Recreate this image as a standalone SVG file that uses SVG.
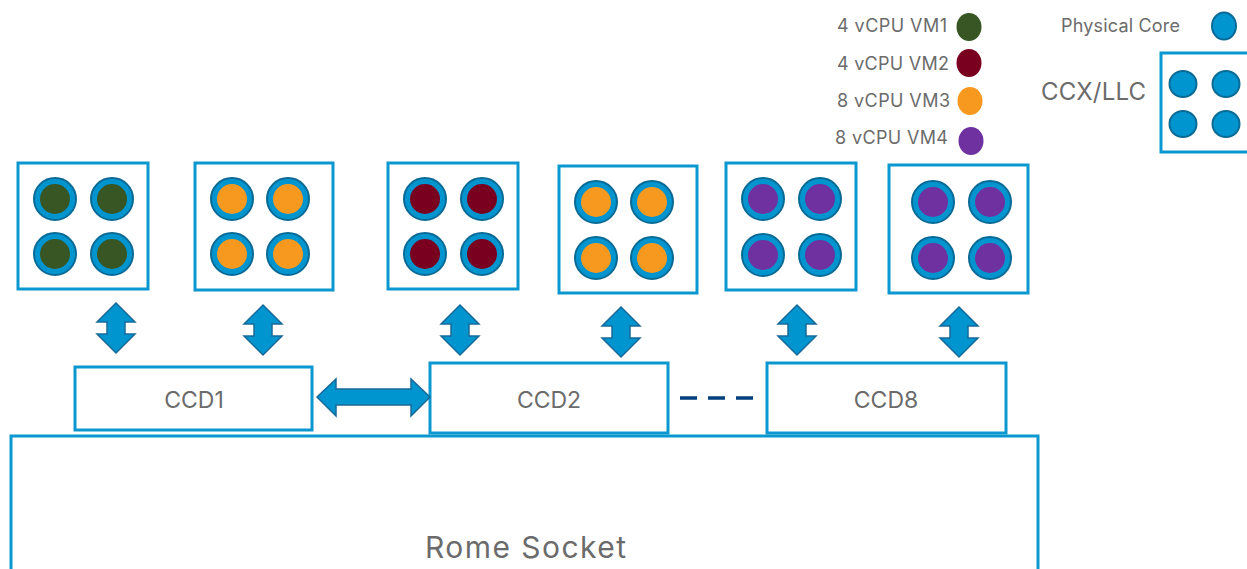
<svg xmlns="http://www.w3.org/2000/svg" width="1247" height="569" viewBox="0 0 1247 569">
  <defs>
    <style>
      .box { fill: #ffffff; stroke: #0b97d0; stroke-width: 3; }
      .core { fill: #0095cf; stroke: #0a6a96; stroke-width: 2; }
      .lbl { font-family: Inter, "Open Sans", "Liberation Sans", sans-serif; fill: #6b6b6b; }
      .legend-lbl { font-size: 18px; }
      .ccd-lbl { font-size: 23px; text-anchor: middle; }
      .arrow { fill: #0095cf; stroke: #17699a; stroke-width: 1.5; stroke-linejoin: miter; }
      .vm1 { fill: #375623; }
      .vm2 { fill: #7a0020; }
      .vm3 { fill: #f7991e; }
      .vm4 { fill: #7031a0; }
    </style>
    <!-- vertical double arrow, centred on 0, 50 tall -->
    <path id="varrow" class="arrow" d="M0,0 L19,19 L9,19 L9,31 L19,31 L0,50 L-19,31 L-9,31 L-9,19 L-19,19 Z"/>
    <!-- physical core with ring -->
    <circle id="ring" class="core" r="21"/>
  </defs>

  <!-- Legend -->
  <g id="legend">
    <text class="lbl legend-lbl" x="837" y="32" textLength="110">4 vCPU VM1</text>
    <ellipse class="vm1" cx="969" cy="27" rx="12.5" ry="14"/>
    <text class="lbl legend-lbl" x="837" y="70" textLength="112">4 vCPU VM2</text>
    <ellipse class="vm2" cx="969" cy="63" rx="12.5" ry="14"/>
    <text class="lbl legend-lbl" x="837" y="107" textLength="113">8 vCPU VM3</text>
    <ellipse class="vm3" cx="970" cy="101" rx="12.5" ry="14"/>
    <text class="lbl legend-lbl" x="835" y="144" textLength="113">8 vCPU VM4</text>
    <ellipse class="vm4" cx="971" cy="141" rx="12.5" ry="14"/>
    <text class="lbl legend-lbl" x="1061" y="32" textLength="119">Physical Core</text>
    <ellipse class="core" cx="1224" cy="26" rx="12" ry="13.5"/>
  </g>

  <g id="ccx-legend">
    <text class="lbl" x="1041" y="100" font-size="24" textLength="105">CCX/LLC</text>
    <rect class="box" x="1161" y="53" width="100" height="99"/>
    <ellipse class="core" cx="1183" cy="84" rx="13.5" ry="13"/>
    <ellipse class="core" cx="1226" cy="84" rx="13.5" ry="13"/>
    <ellipse class="core" cx="1183" cy="124" rx="13.5" ry="13"/>
    <ellipse class="core" cx="1226" cy="124" rx="13.5" ry="13"/>
  </g>

  <!-- Socket -->
  <g id="socket">
    <rect class="box" x="11" y="436" width="1027" height="160"/>
    <text class="lbl" x="425" y="558" font-size="30" textLength="201">Rome Socket</text>
  </g>

  <!-- CCX groups -->
  <g id="ccx1">
    <rect class="box" x="18" y="163" width="130" height="126"/>
    <use href="#ring" x="55" y="199"/><circle class="vm1" cx="55" cy="199" r="15"/>
    <use href="#ring" x="112" y="199"/><circle class="vm1" cx="112" cy="199" r="15"/>
    <use href="#ring" x="55" y="254"/><circle class="vm1" cx="55" cy="254" r="15"/>
    <use href="#ring" x="112" y="254"/><circle class="vm1" cx="112" cy="254" r="15"/>
  </g>
  <g id="ccx2">
    <rect class="box" x="195" y="163" width="138" height="127"/>
    <use href="#ring" x="232" y="199"/><circle class="vm3" cx="232" cy="199" r="15"/>
    <use href="#ring" x="288" y="199"/><circle class="vm3" cx="288" cy="199" r="15"/>
    <use href="#ring" x="232" y="254"/><circle class="vm3" cx="232" cy="254" r="15"/>
    <use href="#ring" x="288" y="254"/><circle class="vm3" cx="288" cy="254" r="15"/>
  </g>
  <g id="ccx3">
    <rect class="box" x="388" y="163" width="130" height="126"/>
    <use href="#ring" x="425" y="199"/><circle class="vm2" cx="425" cy="199" r="15"/>
    <use href="#ring" x="482" y="199"/><circle class="vm2" cx="482" cy="199" r="15"/>
    <use href="#ring" x="425" y="254"/><circle class="vm2" cx="425" cy="254" r="15"/>
    <use href="#ring" x="482" y="254"/><circle class="vm2" cx="482" cy="254" r="15"/>
  </g>
  <g id="ccx4">
    <rect class="box" x="559" y="166" width="138" height="127"/>
    <use href="#ring" x="596" y="202"/><circle class="vm3" cx="596" cy="202" r="15"/>
    <use href="#ring" x="652" y="202"/><circle class="vm3" cx="652" cy="202" r="15"/>
    <use href="#ring" x="596" y="258"/><circle class="vm3" cx="596" cy="258" r="15"/>
    <use href="#ring" x="652" y="258"/><circle class="vm3" cx="652" cy="258" r="15"/>
  </g>
  <g id="ccx5">
    <rect class="box" x="726" y="163" width="130" height="127"/>
    <use href="#ring" x="763" y="199"/><circle class="vm4" cx="763" cy="199" r="15"/>
    <use href="#ring" x="820" y="199"/><circle class="vm4" cx="820" cy="199" r="15"/>
    <use href="#ring" x="763" y="255"/><circle class="vm4" cx="763" cy="255" r="15"/>
    <use href="#ring" x="820" y="255"/><circle class="vm4" cx="820" cy="255" r="15"/>
  </g>
  <g id="ccx6">
    <rect class="box" x="889" y="165" width="139" height="128"/>
    <use href="#ring" x="933" y="202"/><circle class="vm4" cx="933" cy="202" r="15"/>
    <use href="#ring" x="990" y="202"/><circle class="vm4" cx="990" cy="202" r="15"/>
    <use href="#ring" x="933" y="258"/><circle class="vm4" cx="933" cy="258" r="15"/>
    <use href="#ring" x="990" y="258"/><circle class="vm4" cx="990" cy="258" r="15"/>
  </g>

  <!-- CCDs -->
  <g id="ccd1">
    <rect class="box" x="75" y="367" width="237" height="63"/>
    <text class="lbl ccd-lbl" x="194" y="408">CCD1</text>
  </g>
  <g id="ccd2">
    <rect class="box" x="430" y="363" width="238" height="70"/>
    <text class="lbl ccd-lbl" x="549" y="408">CCD2</text>
  </g>
  <g id="ccd8">
    <rect class="box" x="767" y="363" width="239" height="70"/>
    <text class="lbl ccd-lbl" x="886" y="408">CCD8</text>
  </g>

  <!-- Connectors -->
  <g id="connectors">
    <use href="#varrow" x="116" y="303"/>
    <use href="#varrow" x="263" y="305"/>
    <use href="#varrow" x="460" y="305"/>
    <use href="#varrow" x="621" y="307"/>
    <use href="#varrow" x="797" y="305"/>
    <use href="#varrow" x="959" y="307"/>
    <path class="arrow" d="M317,397 L336,379 L336,389 L411,389 L411,379 L430,397 L411,416 L411,405 L336,405 L336,416 Z"/>
    <line x1="680" y1="398" x2="753" y2="398" stroke="#003f7d" stroke-width="3.5" stroke-dasharray="17,11"/>
  </g>
</svg>
